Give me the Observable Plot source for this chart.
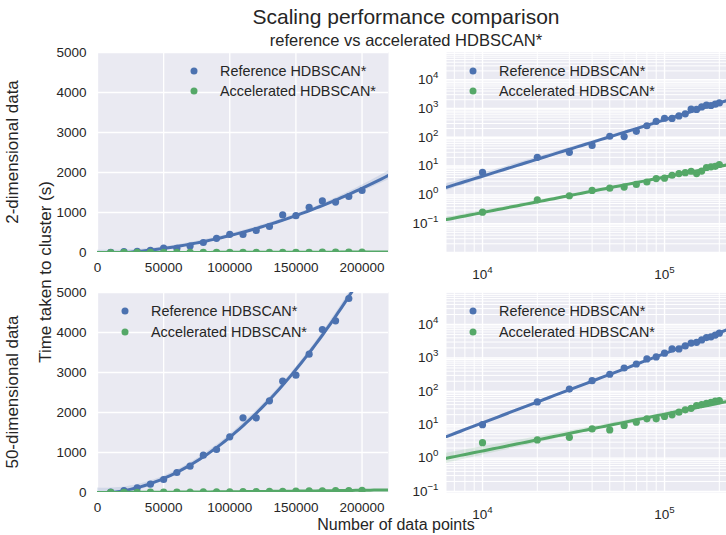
<!DOCTYPE html>
<html><head><meta charset="utf-8">
<script src="https://cdn.jsdelivr.net/npm/d3@7"></script>
<script src="https://cdn.jsdelivr.net/npm/@observablehq/plot@0.6"></script>
<style>
body{margin:0;background:#fff;}
#fig{position:relative;width:726px;height:535px;overflow:hidden;font-family:"Liberation Sans",Arial,sans-serif;color:#262626;}
.t{position:absolute;white-space:nowrap;line-height:1;}
.rot{transform:translate(-50%,-50%) rotate(-90deg);}
.ctr{transform:translate(-50%,-50%);}
.leg{position:absolute;font-size:14.4px;white-space:nowrap;line-height:1;transform:translateY(-50%);}
.dot{position:absolute;width:7px;height:7px;border-radius:50%;transform:translate(-50%,-50%);}
.panel{position:absolute;}
</style></head><body><div id="fig"></div>
<script>
// ---- data ----
const sizes = [10000, 20000, 30000, 40000, 50000, 60000, 70000, 80000, 90000, 100000,
               110000, 120000, 130000, 140000, 150000, 160000, 170000, 180000, 190000, 200000];
const ref2d = [6, 20, 30, 52, 108, 105, 160, 250, 355, 455, 450, 550, 650, 940, 920, 1130, 1290, 1260, 1400, 1550];
const acc2d = [0.25, 0.67, 0.93, 1.43, 1.71, 1.86, 2.3, 2.8, 3.66, 3.8, 4.8, 5.5, 5.9, 6.6, 5.5, 6.7, 8.9, 9.4, 9.8, 11.3];
const ref50d = [10, 48, 117, 208, 325, 500, 658, 933, 1075, 1392, 1867, 1867, 2292, 2783, 2933, 3458, 4075, 4292, 4850, 5500];
const acc50d = [2.9, 3.5, 4.2, 7.5, 7.0, 9.5, 11.9, 15, 15, 17.6, 19.8, 23.7, 28, 31, 37.6, 40, 44, 47, 50.6, 53];
const seriesNames = ["Reference HDBSCAN*", "Accelerated HDBSCAN*"];
const linXTicks = [0, 50000, 100000, 150000, 200000];
const linYTicks = [0, 1000, 2000, 3000, 4000, 5000];
const logXTicks = [10000, 100000];
const logYTicks = [0.1, 1, 10, 100, 1000, 10000];
const logDecades = [0.001, 0.01, 0.1, 1, 10, 100, 1000, 10000, 100000];
const minorMult = [2, 3, 4, 5, 6, 7, 8, 9];

const C_REF = "#4C72B0", C_ACC = "#55A868", BG = "#EAEAF2";
const FONT = '"Liberation Sans", Arial, sans-serif';
const fig = document.getElementById("fig");

function add(html){ fig.insertAdjacentHTML("beforeend", html); }

// ---- regression helpers ----
function invert(A){
  const n = A.length;
  const M = A.map((row,i)=>[...row, ...Array.from({length:n},(_,j)=>i===j?1:0)]);
  for(let c=0;c<n;c++){
    let p=c; for(let r=c+1;r<n;r++) if(Math.abs(M[r][c])>Math.abs(M[p][c])) p=r;
    [M[c],M[p]]=[M[p],M[c]];
    const piv=M[c][c]; for(let k=0;k<2*n;k++) M[c][k]/=piv;
    for(let r=0;r<n;r++) if(r!==c){ const f=M[r][c]; for(let k=0;k<2*n;k++) M[r][k]-=f*M[c][k]; }
  }
  return M.map(row=>row.slice(n));
}
function polyfit(xs, ys, order){
  const n=xs.length, m=order+1;
  const X = xs.map(x=>Array.from({length:m},(_,j)=>x**j));
  const XtX = Array.from({length:m},(_,i)=>Array.from({length:m},(_,j)=>d3.sum(X,r=>r[i]*r[j])));
  const Xty = Array.from({length:m},(_,i)=>d3.sum(X,(r,k)=>r[i]*ys[k]));
  const inv = invert(XtX);
  const beta = inv.map(row=>d3.sum(row,(v,j)=>v*Xty[j]));
  const pred = x=>d3.sum(beta,(b,j)=>b*x**j);
  const s2 = d3.sum(xs,(x,k)=>(ys[k]-pred(x))**2)/(n-m);
  const se = x=>{ const v=Array.from({length:m},(_,j)=>x**j); let q=0;
    for(let i=0;i<m;i++) for(let j=0;j<m;j++) q+=v[i]*inv[i][j]*v[j]; return Math.sqrt(s2*q); };
  return {pred, se};
}
function fitRows(xs, ys, log, xDomain){
  const t = 2.1;
  if(log){
    const f = polyfit(xs.map(Math.log10), ys.map(Math.log10), 1);
    const [a,b] = xDomain.map(Math.log10);
    return d3.range(61).map(i=>{ const g=a+(b-a)*i/60, p=f.pred(g), e=t*f.se(g);
      return {x:10**g, y:10**p, lo:10**(p-e), hi:10**(p+e)}; });
  } else {
    const f = polyfit(xs.map(x=>x/1e5), ys, 2);
    const [a,b] = xDomain;
    return d3.range(81).map(i=>{ const x=a+(b-a)*i/80, s=x/1e5, p=f.pred(s), e=t*f.se(s);
      return {x, y:p, lo:p-e, hi:p+e}; });
  }
}

// ---- panel ----
function panel(o){
  const ml=70, mt=10, mr=0, mb=40;
  const marks=[Plot.frame({fill:BG, stroke:null})];
  const inX = v=>v>=o.xDomain[0]&&v<=o.xDomain[1];
  const inY = v=>v>=o.yDomain[0]&&v<=o.yDomain[1];
  if(o.log){
    const minor = decs=>decs.flatMap(d=>minorMult.map(m=>m*d));
    marks.push(Plot.ruleX(minor(logDecades).filter(inX),{stroke:"white",strokeWidth:1}));
    marks.push(Plot.ruleY(minor(logDecades).filter(inY),{stroke:"white",strokeWidth:1}));
    marks.push(Plot.ruleX(logDecades.filter(inX),{stroke:"white",strokeWidth:1.4}));
    marks.push(Plot.ruleY(logDecades.filter(inY),{stroke:"white",strokeWidth:1.4}));
  } else {
    marks.push(Plot.ruleX(o.xTicks,{stroke:"white",strokeWidth:1.3}));
    marks.push(Plot.ruleY(o.yTicks,{stroke:"white",strokeWidth:1.3}));
  }
  o.series.forEach(s=>{
    const pts = sizes.map((x,i)=>({x, y:s.values[i]}));
    const rows = fitRows(sizes, s.values, o.log, o.xDomain);
    marks.push(Plot.dot(pts,{x:"x",y:"y",r:3.6,fill:s.color,stroke:null,clip:true}));
    marks.push(Plot.areaY(rows,{x:"x",y1:"lo",y2:"hi",fill:s.color,fillOpacity:0.15,clip:true}));
    marks.push(Plot.line(rows,{x:"x",y:"y",stroke:s.color,strokeWidth:3,clip:true}));
  });
  const fmt = o.log ? (d=>"10^"+Math.round(Math.log10(d))) : (d=>String(d));
  marks.push(Plot.axisX(o.xTicks,{tickSize:0,tickPadding:o.log?17:10,tickFormat:fmt,label:null,fontSize:13.5,fill:"#262626"}));
  marks.push(Plot.axisY(o.yTicks,{tickSize:0,tickPadding:o.log?8:11,tickFormat:fmt,label:null,fontSize:13.5,fill:"#262626"}));
  const svg = Plot.plot({
    width: ml+o.w+mr, height: mt+o.h+mb,
    marginLeft:ml, marginTop:mt, marginRight:mr, marginBottom:mb,
    x:{type:o.log?"log":"linear", domain:o.xDomain, label:null},
    y:{type:o.log?"log":"linear", domain:o.yDomain, label:null},
    style:{background:"transparent", overflow:"visible", fontFamily:FONT, fontSize:"13.5px", color:"#262626"},
    marks
  });
  if(o.log){
    svg.querySelectorAll("text").forEach(t=>{
      const s=t.textContent; if(s.indexOf("^")<0) return;
      const [b,e]=s.split("^");
      t.textContent=b;
      const ts=document.createElementNS("http://www.w3.org/2000/svg","tspan");
      ts.setAttribute("dy","-0.62em"); ts.setAttribute("font-size","0.72em");
      ts.textContent=e.replace("-","\u2212");
      t.appendChild(ts);
    });
  }
  svg.classList.add("panel");
  svg.style.left=(o.left-ml)+"px"; svg.style.top=(o.top-mt)+"px";
  fig.appendChild(svg);
  // legend
  o.series.forEach((s,i)=>{
    const y=o.legY+i*o.legDy;
    add(`<div class="dot" style="left:${o.legX}px;top:${y}px;background:${s.color}"></div>`);
    add(`<div class="leg" style="left:${o.legX+26}px;top:${y}px">${seriesNames[i]}</div>`);
  });
}

const logXDomain=[6340, 219000];
panel({left:97, top:52, w:291, h:200, log:false, xDomain:[0,220000], yDomain:[0,5000],
  xTicks:linXTicks, yTicks:linYTicks, series:[{values:ref2d,color:C_REF},{values:acc2d,color:C_ACC}],
  legX:194, legY:71, legDy:20});
panel({left:446, top:52, w:280, h:200, log:true, xDomain:logXDomain, yDomain:[10**-2.0, 10**4.94],
  xTicks:logXTicks, yTicks:logYTicks, series:[{values:ref2d,color:C_REF},{values:acc2d,color:C_ACC}],
  legX:473, legY:71, legDy:20});
panel({left:97, top:292, w:291, h:200, log:false, xDomain:[0,220000], yDomain:[0,5000],
  xTicks:linXTicks, yTicks:linYTicks, series:[{values:ref50d,color:C_REF},{values:acc50d,color:C_ACC}],
  legX:125, legY:311, legDy:21});
panel({left:446, top:292, w:280, h:200, log:true, xDomain:logXDomain, yDomain:[10**-1.03, 10**4.96],
  xTicks:logXTicks, yTicks:logYTicks, series:[{values:ref50d,color:C_REF},{values:acc50d,color:C_ACC}],
  legX:473, legY:311, legDy:21});

// titles and axis labels
add(`<div class="t ctr" style="left:406px;top:16px;font-size:21px">Scaling performance comparison</div>`);
add(`<div class="t ctr" style="left:406px;top:40px;font-size:16.5px">reference vs accelerated HDBSCAN*</div>`);
add(`<div class="t rot" style="left:12px;top:152px;font-size:17px">2-dimensional data</div>`);
add(`<div class="t rot" style="left:45px;top:272px;font-size:17px">Time taken to cluster (s)</div>`);
add(`<div class="t rot" style="left:12px;top:392px;font-size:17px">50-dimensional data</div>`);
add(`<div class="t ctr" style="left:396px;top:525px;font-size:16px">Number of data points</div>`);
</script></body></html>
